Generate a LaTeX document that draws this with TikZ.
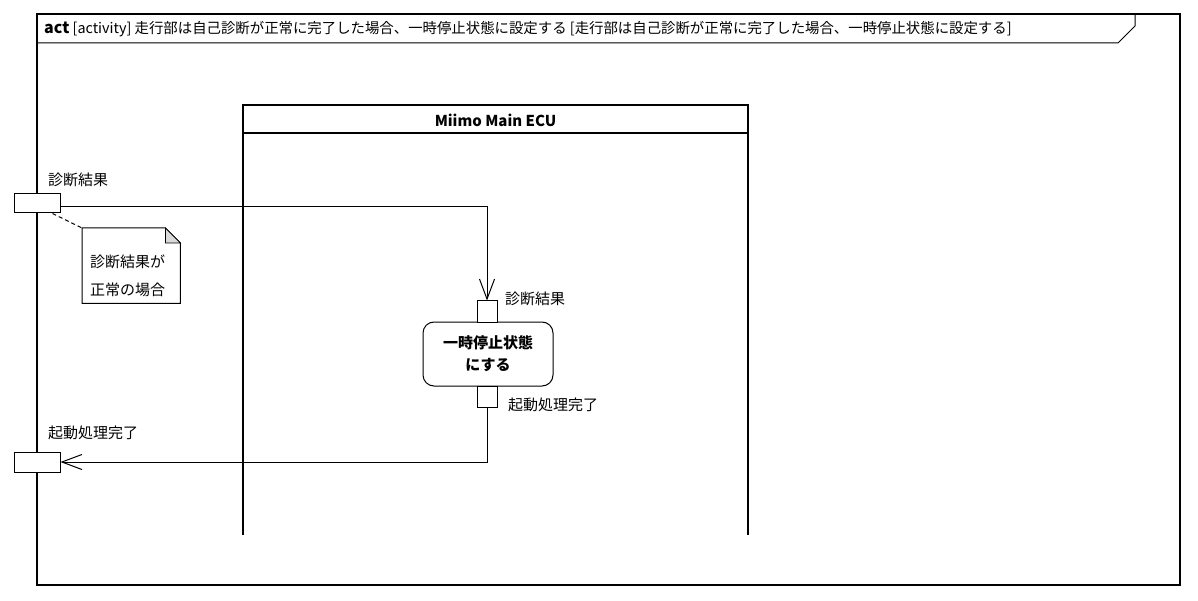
\documentclass[tikz,border=0pt]{standalone}
\usepackage{fontspec}
\setmainfont{Noto Sans CJK JP}
\usetikzlibrary{arrows.meta}
\begin{document}
\begin{tikzpicture}[x=1pt,y=-1pt,
  lbl/.style={font=\fontsize{15}{18}\selectfont, inner sep=0pt, anchor=west},
  pinbox/.style={draw, line width=1pt, fill=white, minimum width=46pt, minimum height=19pt, inner sep=0pt},
  apin/.style={draw, line width=1pt, fill=white, minimum width=20pt, minimum height=21pt, inner sep=0pt},
  flow/.style={line width=1pt, -{Straight Barb[length=20pt,width=15pt]}},
  lane/.style={line width=1.6pt},
]
\useasboundingbox (0,0) rectangle (1198,601);
\fill[white] (0,0) rectangle (1198,601);
% frame
\draw[line width=1.5pt] (37,14) rectangle (1180,585);
\draw[line width=1pt] (37,43) -- (1118,43) -- (1135,26) -- (1135,14);
\node[inner sep=0pt, anchor=west, font=\fontsize{14.4}{17}\selectfont] (title) at (44,29)
  {{\bfseries\fontsize{16}{17}\selectfont act} [activity] 走行部は自己診断が正常に完了した場合、一時停止状態に設定する [走行部は自己診断が正常に完了した場合、一時停止状態に設定する]};
% partition
\draw[lane] (243,535) -- (243,105) -- (748,105) -- (748,535);
\draw[lane] (243,133) -- (748,133);
\node[inner sep=0pt, font=\bfseries\fontsize{15}{18}\selectfont] (lanename) at (495.5,120) {Miimo Main ECU};
% parameter pins
\node[pinbox] (pin1) at (37,203.5) {};
\node[pinbox, minimum height=20pt] (pin2) at (37,462) {};
\node[lbl] (pin1lbl) at (48,180) {診断結果};
\node[lbl] (pin2lbl) at (48,433) {起動処理完了};
% action
\node[draw, line width=1pt, rounded corners=11pt, minimum width=130pt, minimum height=64pt, align=center,
  font=\bfseries\fontsize{15}{22}\selectfont] (act) at (488,354) {一時停止状態\\にする};
\node[apin] (ipin) at (487,311.5) {};
\node[apin] (opin) at (487,396.5) {};
\node[lbl] (ipinlbl) at (505,299) {診断結果};
\node[lbl] (opinlbl) at (508,405) {起動処理完了};
% flows
\draw[flow] ([yshift=-3pt]pin1.east) -| (ipin.north);
\draw[flow] (opin.south) |- (pin2.east);
% note
\node[minimum width=98pt, minimum height=75pt, inner sep=0pt, anchor=north west] (note) at (82,228) {};
\draw[line width=1pt] (note.north west) -- ([xshift=-15pt]note.north east) -- ([yshift=-15pt]note.north east)
  -- (note.south east) -- (note.south west) -- cycle;
\draw[line width=0.8pt, fill=gray!30] ([xshift=-15pt]note.north east) -- ([xshift=-15pt,yshift=-15pt]note.north east)
  -- ([yshift=-15pt]note.north east) -- cycle;
\node[lbl, align=left, font=\fontsize{15}{28}\selectfont] (notetext) at (90,276) {診断結果が\\正常の場合};
\draw[line width=1pt, dash pattern=on 4pt off 3pt] ([xshift=-8pt]pin1.south east) -- (note.north west);
\end{tikzpicture}
\end{document}
